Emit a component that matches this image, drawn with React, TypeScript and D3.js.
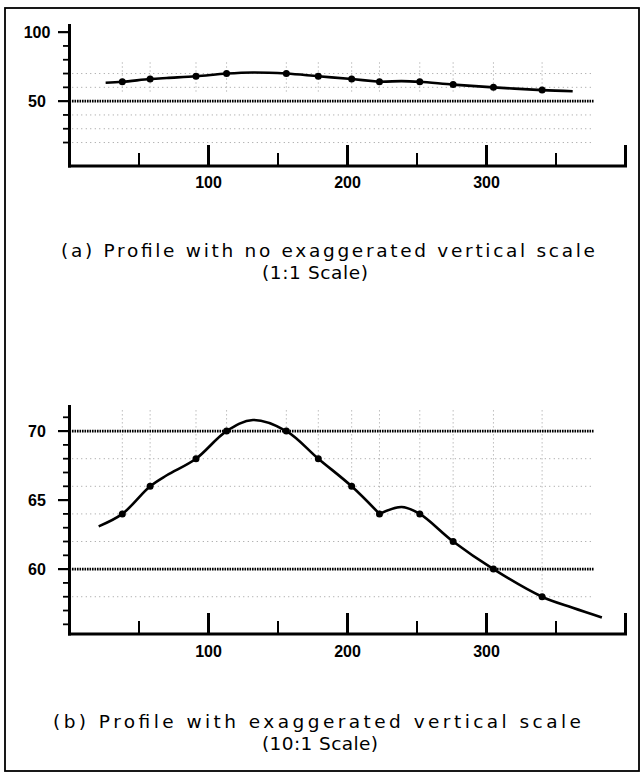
import React from 'react';
import * as d3 from 'd3';

// Survey stations (distance, elevation)
const stationX = [38, 58, 91, 113, 156, 179, 203, 223, 252, 276, 305, 340];
const stationY = [64, 66, 68, 70, 70, 68, 66, 64, 64, 62, 60, 58];

// Hand-drawn profile trace, split at the cusp at 223
const traceAX = [21, 38, 58, 70, 91, 113, 132, 156, 179, 203, 223];
const traceAY = [63.1, 64, 66, 66.8, 68, 70, 70.8, 70, 68, 66, 64];
const traceBX = [223, 239, 252, 276, 305, 340, 362, 383];
const traceBY = [64, 64.5, 64, 62, 60, 58, 57.2, 56.5];
// the 1:1 panel's trace starts and ends a little inside
const topTraceStart = [26, 63.3];
const topTraceEnd = [362, 57.2];

const xMajor = [100, 200, 300, 400];
const xMinor = [50, 150, 250, 350];
const xLabels = [100, 200, 300];

const topYMajor = [50, 100];
const topYMinor = [20, 30, 40, 60, 70, 80, 90];
const topYLabels = [50, 100];
const topBold = [50];
const topFaint = [20, 30, 40, 60, 70];

const botYMajor = [60, 65, 70];
const botYMinor = [56, 57, 58, 59, 61, 62, 63, 64, 66, 67, 68, 69, 71];
const botYLabels = [60, 65, 70];
const botBold = [60, 70];
const botFaint = [58, 62, 64, 66, 68];

const captionA1 = '(a) Profile with no exaggerated vertical scale';
const captionA2 = '(1:1 Scale)';
const captionB1 = '(b) Profile with exaggerated vertical scale';
const captionB2 = '(10:1 Scale)';

const x = d3.scaleLinear().domain([0, 400]).range([69.5, 625.5]);

type PanelProps = {
  y: d3.ScaleLinear<number, number>;
  yMajor: number[];
  yMinor: number[];
  yLabels: number[];
  bold: number[];
  faint: number[];
  segA: [number, number][];
  segB: [number, number][];
  dropTop: (v: number) => number;
  dropBottom: (v: number) => number;
  labelDy: number;
};

function Panel(p: PanelProps) {
  const [y0, y1] = p.y.domain();
  const axisY = p.y(y0);
  const topY = p.y(y1);
  const line = d3
    .line<[number, number]>()
    .x((d) => x(d[0]))
    .y((d) => p.y(d[1]))
    .curve(d3.curveCatmullRom.alpha(0.5));
  const lineEnd = x(375);
  return (
    <g>
      {/* faint grid */}
      {p.faint.map((v) => (
        <line key={'f' + v} x1={x(2)} x2={lineEnd} y1={p.y(v)} y2={p.y(v)}
          stroke="#9a9a9a" strokeWidth={1} strokeDasharray="1 3.5" />
      ))}
      {stationX.map((sx, i) => (
        <line key={'v' + i} x1={x(sx)} x2={x(sx)}
          y1={p.y(p.dropTop(stationY[i]))} y2={p.y(p.dropBottom(stationY[i]))}
          stroke="#9a9a9a" strokeWidth={1} strokeDasharray="1 3" />
      ))}
      {/* bold dotted reference lines */}
      {p.bold.map((v) => (
        <line key={'b' + v} x1={x(0)} x2={x(377)} y1={p.y(v)} y2={p.y(v)}
          stroke="#000" strokeWidth={2.6} strokeDasharray="1.6 0.9" />
      ))}
      {/* profile */}
      <path d={line(p.segA) || ''} fill="none" stroke="#000" strokeWidth={2.6} strokeLinejoin="round" />
      <path d={line(p.segB) || ''} fill="none" stroke="#000" strokeWidth={2.6} strokeLinejoin="round" />
      {stationX.map((sx, i) => (
        <circle key={'c' + i} cx={x(sx)} cy={p.y(stationY[i])} r={3.5} fill="#000" />
      ))}
      {/* y axis */}
      <line x1={x(0)} x2={x(0)} y1={topY - 4} y2={axisY + 1.5} stroke="#000" strokeWidth={3} />
      {p.yMajor.map((v) => (
        <line key={'ym' + v} x1={58} x2={x(0)} y1={p.y(v)} y2={p.y(v)} stroke="#000" strokeWidth={2.2} />
      ))}
      {p.yMinor.map((v) => (
        <line key={'yn' + v} x1={63} x2={x(0)} y1={p.y(v)} y2={p.y(v)} stroke="#000" strokeWidth={1.8} />
      ))}
      {p.yLabels.map((v) => (
        <text key={'yl' + v} x={37} y={p.y(v)} dy="0.36em" textAnchor="middle"
          fontFamily="Liberation Sans, Arial, sans-serif" fontWeight="bold" fontSize={16}>{v}</text>
      ))}
      {/* x axis */}
      <line x1={x(0) - 1.5} x2={x(400) + 1.5} y1={axisY} y2={axisY} stroke="#000" strokeWidth={3} />
      {xMajor.map((v) => (
        <line key={'xm' + v} x1={x(v)} x2={x(v)} y1={axisY} y2={axisY - 21} stroke="#000" strokeWidth={3} />
      ))}
      {xMinor.map((v) => (
        <line key={'xn' + v} x1={x(v)} x2={x(v)} y1={axisY} y2={axisY - 13} stroke="#000" strokeWidth={2} />
      ))}
      {xLabels.map((v) => (
        <text key={'xl' + v} x={x(v)} y={axisY + p.labelDy} textAnchor="middle"
          fontFamily="Liberation Sans, Arial, sans-serif" fontWeight="bold" fontSize={16}>{v}</text>
      ))}
    </g>
  );
}

function pairs(xs: number[], ys: number[]): [number, number][] {
  return xs.map((v, i) => [v, ys[i]] as [number, number]);
}

export default function App() {
  const yTop = d3.scaleLinear().domain([3, 103]).range([166, 28]);
  const yBot = d3.scaleLinear().domain([55.3, 71.6]).range([634, 409]);

  const segA = pairs(traceAX, traceAY);
  const segB = pairs(traceBX, traceBY);
  const topSegA: [number, number][] = [[topTraceStart[0], topTraceStart[1]], ...segA.slice(1)];
  const topSegB: [number, number][] = [...segB.slice(0, -2), [topTraceEnd[0], topTraceEnd[1]]];

  const capFont = 'DejaVu Sans, Verdana, sans-serif';
  return (
    <svg width={641} height={774} style={{ position: 'absolute', left: 0, top: 0, background: '#fff' }}>
      <rect x={0} y={0} width={641} height={774} fill="#fff" />
      <rect x={5} y={8} width={634} height={763} fill="none" stroke="#000" strokeWidth={1.8} />
      <Panel y={yTop} yMajor={topYMajor} yMinor={topYMinor} yLabels={topYLabels}
        bold={topBold} faint={topFaint} segA={topSegA} segB={topSegB}
        dropTop={() => 78} dropBottom={() => 57} labelDy={22} />
      <Panel y={yBot} yMajor={botYMajor} yMinor={botYMinor} yLabels={botYLabels}
        bold={botBold} faint={botFaint} segA={segA} segB={segB}
        dropTop={() => 71.5} dropBottom={(v) => v} labelDy={23} />
      <text x={61} y={257} fontFamily={capFont} fontSize={18.5} textLength={534} lengthAdjust="spacing">{captionA1}</text>
      <text x={262} y={279} fontFamily={capFont} fontSize={18.5} textLength={106} lengthAdjust="spacing">{captionA2}</text>
      <text x={53} y={728} fontFamily={capFont} fontSize={18.5} textLength={528} lengthAdjust="spacing">{captionB1}</text>
      <text x={262} y={750} fontFamily={capFont} fontSize={18.5} textLength={116} lengthAdjust="spacing">{captionB2}</text>
    </svg>
  );
}
